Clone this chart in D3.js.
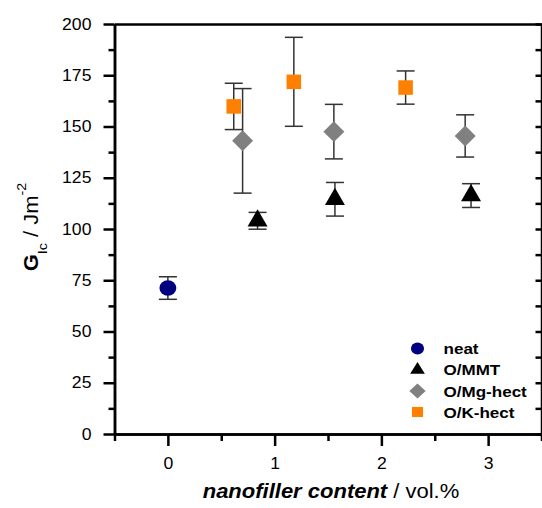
<!DOCTYPE html>
<html>
<head>
<meta charset="utf-8">
<script src="https://cdn.jsdelivr.net/npm/d3@7"></script>
<style>
  body { margin: 0; background: #fff; }
  svg { display: block; }
  text { font-family: "Liberation Sans", Arial, sans-serif; fill: #000; }
</style>
</head>
<body>
<svg id="chart" width="542" height="508"></svg>
<script>
// Fracture toughness G_Ic against nanofiller loading
const seriesNames = ["neat", "O/MMT", "O/Mg-hect", "O/K-hect"];

const neatX   = [0];
const neatY   = [71.2];
const neatErr = [5.5];

const mmtX   = [0.84, 1.565, 2.84];
const mmtY   = [104, 114.5, 116.3];
const mmtErr = [4.1, 8.2, 5.8];

const mgX   = [0.70, 1.555, 2.785];
const mgY   = [143, 147.5, 145.4];
const mgErr = [25.5, 13.3, 10.3];

const kX   = [0.617, 1.18, 2.227];
const kY   = [159.8, 171.8, 169];
const kErr = [11.3, 21.7, 8.1];

const xTicks = [0, 1, 2, 3];
const xMinor = [-0.5, 0.5, 1.5, 2.5, 3.5];
const yTicks = [0, 25, 50, 75, 100, 125, 150, 175, 200];
const yMinor = [12.5, 37.5, 62.5, 87.5, 112.5, 137.5, 162.5, 187.5];

const SX = 1.1; // horizontal text stretch

const svg = d3.select("#chart");
const x = d3.scaleLinear().domain([-0.5, 3.5]).range([114.5, 541.5]);
const y = d3.scaleLinear().domain([0, 200]).range([434, 24]);

const zip = (xs, ys, es) => xs.map((v, i) => ({ x: v, y: ys[i], e: es[i] }));

const series = [
  { name: seriesNames[0], data: zip(neatX, neatY, neatErr), color: "#000080", kind: "circle" },
  { name: seriesNames[1], data: zip(mmtX, mmtY, mmtErr),   color: "#000000", kind: "triangle" },
  { name: seriesNames[2], data: zip(mgX, mgY, mgErr),      color: "#808080", kind: "diamond" },
  { name: seriesNames[3], data: zip(kX, kY, kErr),         color: "#FF8000", kind: "square" }
];

function symbolPath(kind, scale) {
  const s = scale || 1;
  if (kind === "circle")   return d3.symbol(d3.symbolCircle, 185 * s)();
  if (kind === "triangle") return d3.symbol(d3.symbolTriangle, 173 * s)();
  if (kind === "diamond")  return d3.symbol(d3.symbolSquare, 220 * s)();
  return d3.symbol(d3.symbolSquare, 212 * s)();
}
function symbolRotate(kind) { return kind === "diamond" ? " rotate(45)" : ""; }

// ---- axes ----
const axisStyle = g => {
  g.selectAll("path.domain").attr("stroke", "#000").attr("stroke-width", 2.5);
  g.selectAll(".tick line").attr("stroke", "#000").attr("stroke-width", 2.5);
  g.selectAll(".tick text").attr("font-size", 16).attr("fill", "#000");
};

// left
svg.append("g").attr("transform", `translate(${x(-0.5)},0)`)
  .call(d3.axisLeft(y).tickValues(yMinor).tickSize(6).tickSizeOuter(0).tickFormat(""))
  .call(axisStyle);
const leftAxis = svg.append("g").attr("transform", `translate(${x(-0.5)},0)`)
  .call(d3.axisLeft(y).tickValues(yTicks).tickSize(11).tickSizeOuter(0).tickPadding(10))
  .call(axisStyle);
leftAxis.selectAll(".tick text").attr("transform", `scale(${SX},1)`);

// bottom
svg.append("g").attr("transform", `translate(0,${y(0)})`)
  .call(d3.axisBottom(x).tickValues(xMinor).tickSize(7).tickSizeOuter(0).tickFormat(""))
  .call(axisStyle);
const bottomAxis = svg.append("g").attr("transform", `translate(0,${y(0)})`)
  .call(d3.axisBottom(x).tickValues(xTicks).tickSize(12).tickSizeOuter(0).tickPadding(12)
    .tickFormat(d3.format("d")))
  .call(axisStyle);
bottomAxis.selectAll(".tick text").attr("transform", `scale(${SX},1)`);

// right: inward ticks, no labels
svg.append("g").attr("transform", `translate(${x(3.5)},0)`)
  .call(d3.axisRight(y).tickValues(yTicks.concat(yMinor)).tickSize(-6).tickSizeOuter(0).tickFormat(""))
  .call(axisStyle);

// top
svg.append("g").attr("transform", `translate(0,${y(200)})`)
  .call(d3.axisTop(x).tickValues([]).tickSizeOuter(0))
  .call(axisStyle);

// ---- error bars ----
const capHalf = 9;
series.forEach(s => {
  const eg = svg.append("g").attr("stroke", "#333").attr("stroke-width", 1.5).attr("fill", "none");
  s.data.forEach(d => {
    const cx = x(d.x), yt = y(d.y + d.e), yb = y(d.y - d.e);
    eg.append("line").attr("x1", cx).attr("x2", cx).attr("y1", yt).attr("y2", yb);
    eg.append("line").attr("x1", cx - capHalf).attr("x2", cx + capHalf).attr("y1", yt).attr("y2", yt);
    eg.append("line").attr("x1", cx - capHalf).attr("x2", cx + capHalf).attr("y1", yb).attr("y2", yb);
  });
});

// ---- markers ----
series.forEach(s => {
  svg.append("g").selectAll("path").data(s.data).join("path")
    .attr("d", symbolPath(s.kind))
    .attr("transform", d => `translate(${x(d.x)},${y(d.y)})` +
      (s.kind === "circle" ? ` scale(${SX},1)` : "") + symbolRotate(s.kind))
    .attr("fill", s.color);
});

// ---- legend ----
const legendX = 417.5, legendRows = [348.5, 369.8, 391, 412];
const legendScale = { circle: 0.6, triangle: 0.45, diamond: 0.5, square: 0.48 };
series.forEach((s, i) => {
  const ly = legendRows[i];
  svg.append("path")
    .attr("d", symbolPath(s.kind, legendScale[s.kind]))
    .attr("transform", `translate(${legendX},${ly}) scale(${SX},1)` + symbolRotate(s.kind))
    .attr("fill", s.color);
  svg.append("text")
    .attr("transform", `translate(443.5,${ly + 5.5}) scale(${SX},1)`)
    .attr("font-size", 15.5).attr("font-weight", "bold")
    .text(s.name);
});

// ---- axis titles ----
const xt = svg.append("text")
  .attr("transform", `translate(331,498) scale(${SX},1)`)
  .attr("text-anchor", "middle").attr("font-size", 20);
xt.append("tspan").attr("font-weight", "bold").attr("font-style", "italic").text("nanofiller content");
xt.append("tspan").text(" / vol.%");

const yt = svg.append("text")
  .attr("transform", `translate(37.5,227) rotate(-90) scale(${SX},1)`)
  .attr("text-anchor", "middle").attr("font-size", 20);
yt.append("tspan").attr("font-weight", "bold").text("G");
yt.append("tspan").attr("font-size", 13).attr("dy", 9.5).text("Ic");
yt.append("tspan").attr("dy", -9.5).text(" / Jm");
yt.append("tspan").attr("font-size", 13).attr("dy", -12).text("-2");
</script>
</body>
</html>
